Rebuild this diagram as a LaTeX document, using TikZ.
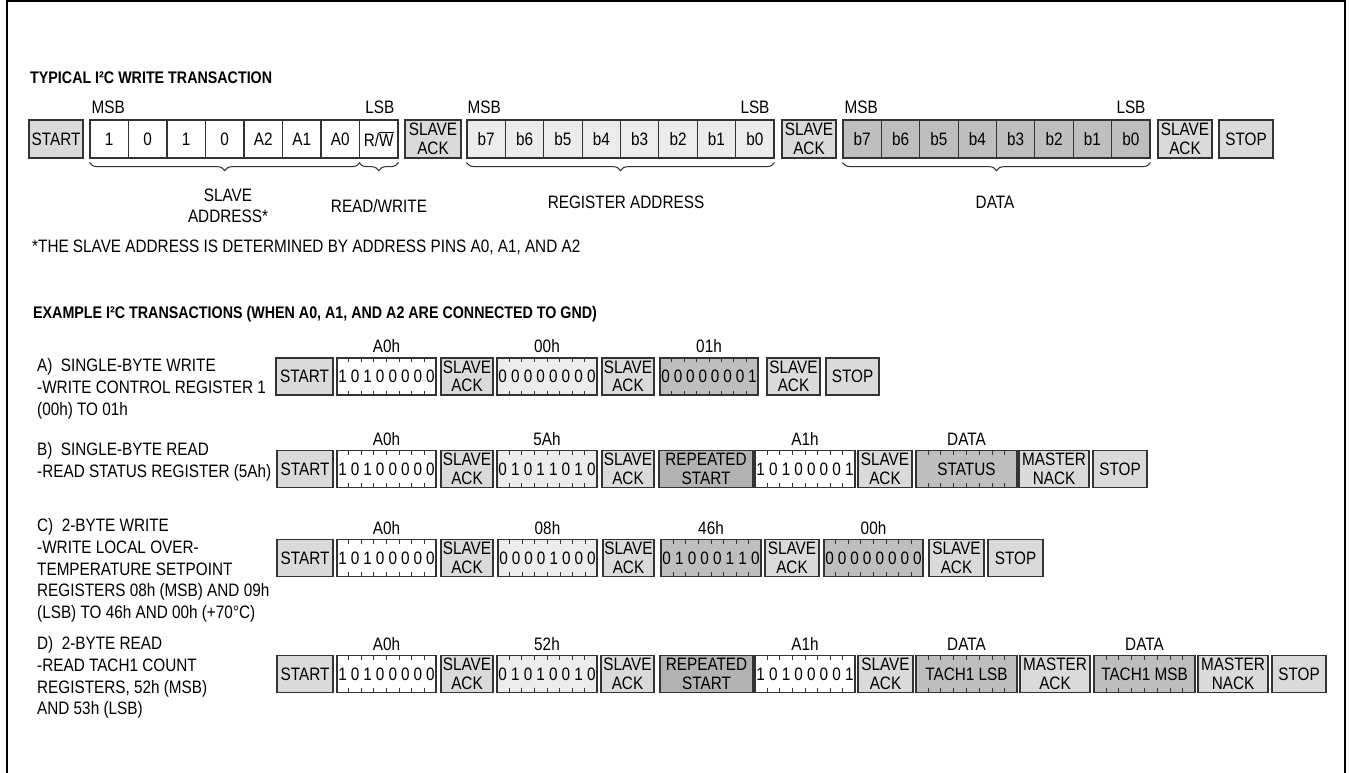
\documentclass[tikz,border=0pt]{standalone}
\usepackage{fontspec}
\setmainfont{Liberation Sans}[FakeStretch=0.85]
\usetikzlibrary{calc, decorations.pathreplacing}
\definecolor{ctrlgray}{RGB}{218, 218, 218}
\definecolor{reggray}{RGB}{236, 236, 236}
\definecolor{datagray}{RGB}{190, 190, 190}
\definecolor{rstgray}{RGB}{178, 178, 178}
\newcommand{\boxfont}{\fontsize{18}{18.5}\selectfont}
\newcommand{\txtfont}{\fontsize{18}{21.6}\selectfont}
\newcommand{\headfont}{\fontsize{16.8}{18}\selectfont\bfseries}
\newcommand{\ctrlbox}[6]{\node[#2, minimum width={#4-#3}] (#1) at ({(#3+#4)/2}, #5) {#6};}
\newcommand{\byteticks}[1]{\foreach \k in {1,...,7} {
    \draw[bittick] ($(#1.north west)!\k/8!(#1.north east)$) -- ++(0, 5);
    \draw[bittick] ($(#1.south west)!\k/8!(#1.south east)$) -- ++(0, -5);}}
\newcommand{\bitbyte}[7]{\ctrlbox{#1}{#2}{#3}{#4}{#5}{}
  \node[lbl] (#1-lbl) at ({(#3+#4)/2}, #5-30) {#6};
  \foreach \b [count=\k, evaluate=\k as \f using (\k-0.5)/8] in {#7}
    \node[bit] (#1-\k) at ($(#1.west)!\f!(#1.east)$) {\b};
  \byteticks{#1}}
\newcommand{\txtbyte}[7]{\ctrlbox{#1}{#2}{#3}{#4}{#5}{#7}
  \node[lbl] (#1-lbl) at ({(#3+#4)/2}, #5-30) {#6};
  \byteticks{#1}}

\begin{document}
\begin{tikzpicture}[x=1pt, y=-1pt,
  ctrl/.style={draw=black!80, line width=1.2, fill=ctrlgray, minimum height=37, inner sep=0, align=center, font=\boxfont},
  addr/.style={ctrl, fill=white},
  regb/.style={ctrl, fill=reggray},
  datab/.style={ctrl, fill=datagray},
  rstb/.style={ctrl, fill=rstgray},
  tall/.style={minimum height=38},
  bittick/.style={draw=black!80, line width=1},
  bit/.style={inner sep=0, font=\boxfont},
  lbl/.style={inner sep=0, font=\txtfont},
  rowlbl/.style={lbl, anchor=north west, align=left},
  head/.style={inner sep=0, anchor=west, font=\headfont},
  brc/.style={draw=black!80, line width=1, decorate, decoration={brace, mirror, amplitude=8}},
  figframe/.style={draw=black, line width=2}
]
  \useasboundingbox (0, 0) rectangle (1349, 773);
  \draw[figframe] (7, 773) -- (7, 1) -- (1345, 1) -- (1345, 773);

  % typical write transaction
  \node[head] (head1) at (30, 78) {TYPICAL I²C WRITE TRANSACTION};
  \ctrlbox{t-start}{ctrl, tall}{29}{83}{139}{START}
  \foreach \t [count=\k] in {1,0,1,0,A2,A1,A0,{R/$\overline{\hbox{W}}$}}
    \node[addr, tall, minimum width=38.5] (t-a\k) at ({90+38.5*(\k-0.5)}, 139) {\t};
  \ctrlbox{t-ack1}{ctrl, tall}{405}{461}{139}{SLAVE\\ACK}
  \foreach \k [evaluate=\k as \n using int(8-\k)] in {1,...,8}
    \node[regb, tall, minimum width=38.4] (t-r\k) at ({467+38.375*(\k-0.5)}, 139) {b\n};
  \ctrlbox{t-ack2}{ctrl, tall}{782}{836}{139}{SLAVE\\ACK}
  \foreach \k [evaluate=\k as \n using int(8-\k)] in {1,...,8}
    \node[datab, tall, minimum width=38.4] (t-d\k) at ({843+38.375*(\k-0.5)}, 139) {b\n};
  \ctrlbox{t-ack3}{ctrl, tall}{1158}{1212}{139}{SLAVE\\ACK}
  \ctrlbox{t-stop}{ctrl, tall}{1219}{1273}{139}{STOP}

  \node[lbl, anchor=south west] (t-msb1) at ([xshift=2, yshift=6]t-a1.north west) {MSB};
  \node[lbl, anchor=south east] (t-lsb1) at ([xshift=-4, yshift=6]t-a8.north east) {LSB};
  \node[lbl, anchor=south west] (t-msb2) at ([xshift=1, yshift=6]t-r1.north west) {MSB};
  \node[lbl, anchor=south east] (t-lsb2) at ([xshift=-5, yshift=6]t-r8.north east) {LSB};
  \node[lbl, anchor=south west] (t-msb3) at ([xshift=2, yshift=6]t-d1.north west) {MSB};
  \node[lbl, anchor=south east] (t-lsb3) at ([xshift=-5, yshift=6]t-d8.north east) {LSB};

  \draw[brc] ([yshift=-4]t-a1.south west) -- ([yshift=-4]t-a7.south east);
  \draw[brc] ([yshift=-4]t-a8.south west) -- ([yshift=-4]t-a8.south east);
  \draw[brc] ([yshift=-4]t-r1.south west) -- ([yshift=-4]t-r8.south east);
  \draw[brc] ([yshift=-4]t-d1.south west) -- ([yshift=-4]t-d8.south east);
  \node[lbl, align=center] (t-sa) at (228, 206) {SLAVE\\ADDRESS*};
  \node[lbl] (t-rw) at (379, 206) {READ/WRITE};
  \node[lbl] (t-ra) at (626, 202) {REGISTER ADDRESS};
  \node[lbl] (t-da) at (995, 202) {DATA};
  \node[lbl, anchor=west] (note) at (32, 247) {*THE SLAVE ADDRESS IS DETERMINED BY ADDRESS PINS A0, A1, AND A2};

  % example transactions
  \node[head] (head2) at (33, 314) {EXAMPLE I²C TRANSACTIONS (WHEN A0, A1, AND A2 ARE CONNECTED TO GND)};

  % row A
  \node[rowlbl] (a-lbl) at (37, 358.7) {A)\ \ SINGLE-BYTE WRITE\\-WRITE CONTROL REGISTER 1\\(00h) TO 01h};
  \ctrlbox{a-start}{ctrl}{276}{333}{376.5}{START}
  \bitbyte{a-addr}{addr}{337}{436}{376.5}{A0h}{1,0,1,0,0,0,0,0}
  \ctrlbox{a-ack1}{ctrl}{441}{493}{376.5}{SLAVE\\ACK}
  \bitbyte{a-reg}{regb}{497}{597}{376.5}{00h}{0,0,0,0,0,0,0,0}
  \ctrlbox{a-ack2}{ctrl}{602}{654}{376.5}{SLAVE\\ACK}
  \bitbyte{a-data}{datab}{660}{758}{376.5}{01h}{0,0,0,0,0,0,0,1}
  \ctrlbox{a-ack3}{ctrl}{767}{820}{376.5}{SLAVE\\ACK}
  \ctrlbox{a-stop}{ctrl}{826}{879}{376.5}{STOP}

  % row B
  \node[rowlbl] (b-lbl) at (37, 442.7) {B)\ \ SINGLE-BYTE READ\\-READ STATUS REGISTER (5Ah)};
  \ctrlbox{b-start}{ctrl}{277}{333}{469}{START}
  \bitbyte{b-addr}{addr}{337}{436}{469}{A0h}{1,0,1,0,0,0,0,0}
  \ctrlbox{b-ack1}{ctrl}{441}{493}{469}{SLAVE\\ACK}
  \bitbyte{b-reg}{regb}{497}{597}{469}{5Ah}{0,1,0,1,1,0,1,0}
  \ctrlbox{b-ack2}{ctrl}{602}{654}{469}{SLAVE\\ACK}
  \ctrlbox{b-rst}{rstb}{659}{753}{469}{REPEATED\\START}
  \bitbyte{b-raddr}{addr}{755}{855}{469}{A1h}{1,0,1,0,0,0,0,1}
  \ctrlbox{b-ack3}{ctrl}{858}{912}{469}{SLAVE\\ACK}
  \txtbyte{b-data}{datab}{916}{1017}{469}{DATA}{STATUS}
  \ctrlbox{b-nack}{ctrl}{1019}{1089}{469}{MASTER\\NACK}
  \ctrlbox{b-stop}{ctrl}{1093}{1147}{469}{STOP}

  % row C
  \node[rowlbl] (c-lbl) at (37, 518.7) {C)\ \ 2-BYTE WRITE\\-WRITE LOCAL OVER-\\TEMPERATURE SETPOINT\\REGISTERS 08h (MSB) AND 09h\\(LSB) TO 46h AND 00h (+70°C)};
  \ctrlbox{c-start}{ctrl}{277}{333}{558}{START}
  \bitbyte{c-addr}{addr}{337}{436}{558}{A0h}{1,0,1,0,0,0,0,0}
  \ctrlbox{c-ack1}{ctrl}{441}{493}{558}{SLAVE\\ACK}
  \bitbyte{c-reg}{regb}{498}{597}{558}{08h}{0,0,0,0,1,0,0,0}
  \ctrlbox{c-ack2}{ctrl}{603}{654}{558}{SLAVE\\ACK}
  \bitbyte{c-msb}{datab}{661}{761}{558}{46h}{0,1,0,0,0,1,1,0}
  \ctrlbox{c-ack3}{ctrl}{765}{819}{558}{SLAVE\\ACK}
  \bitbyte{c-lsb}{datab}{824}{923}{558}{00h}{0,0,0,0,0,0,0,0}
  \ctrlbox{c-ack4}{ctrl}{929}{984}{558}{SLAVE\\ACK}
  \ctrlbox{c-stop}{ctrl}{988}{1043}{558}{STOP}

  % row D
  \node[rowlbl] (d-lbl) at (37, 636.7) {D)\ \ 2-BYTE READ\\-READ TACH1 COUNT\\REGISTERS, 52h (MSB)\\AND 53h (LSB)};
  \ctrlbox{d-start}{ctrl}{277}{333}{674}{START}
  \bitbyte{d-addr}{addr}{337}{436}{674}{A0h}{1,0,1,0,0,0,0,0}
  \ctrlbox{d-ack1}{ctrl}{441}{493}{674}{SLAVE\\ACK}
  \bitbyte{d-reg}{regb}{497}{597}{674}{52h}{0,1,0,1,0,0,1,0}
  \ctrlbox{d-ack2}{ctrl}{601}{654}{674}{SLAVE\\ACK}
  \ctrlbox{d-rst}{rstb}{660}{753}{674}{REPEATED\\START}
  \bitbyte{d-raddr}{addr}{755}{855}{674}{A1h}{1,0,1,0,0,0,0,1}
  \ctrlbox{d-ack3}{ctrl}{858}{913}{674}{SLAVE\\ACK}
  \txtbyte{d-lsb}{datab}{916}{1017}{674}{DATA}{TACH1 LSB}
  \ctrlbox{d-mack}{ctrl}{1020}{1090}{674}{MASTER\\ACK}
  \txtbyte{d-msb}{datab}{1094}{1195}{674}{DATA}{TACH1 MSB}
  \ctrlbox{d-nack}{ctrl}{1198}{1268}{674}{MASTER\\NACK}
  \ctrlbox{d-stop}{ctrl}{1272}{1326}{674}{STOP}
\end{tikzpicture}
\end{document}
